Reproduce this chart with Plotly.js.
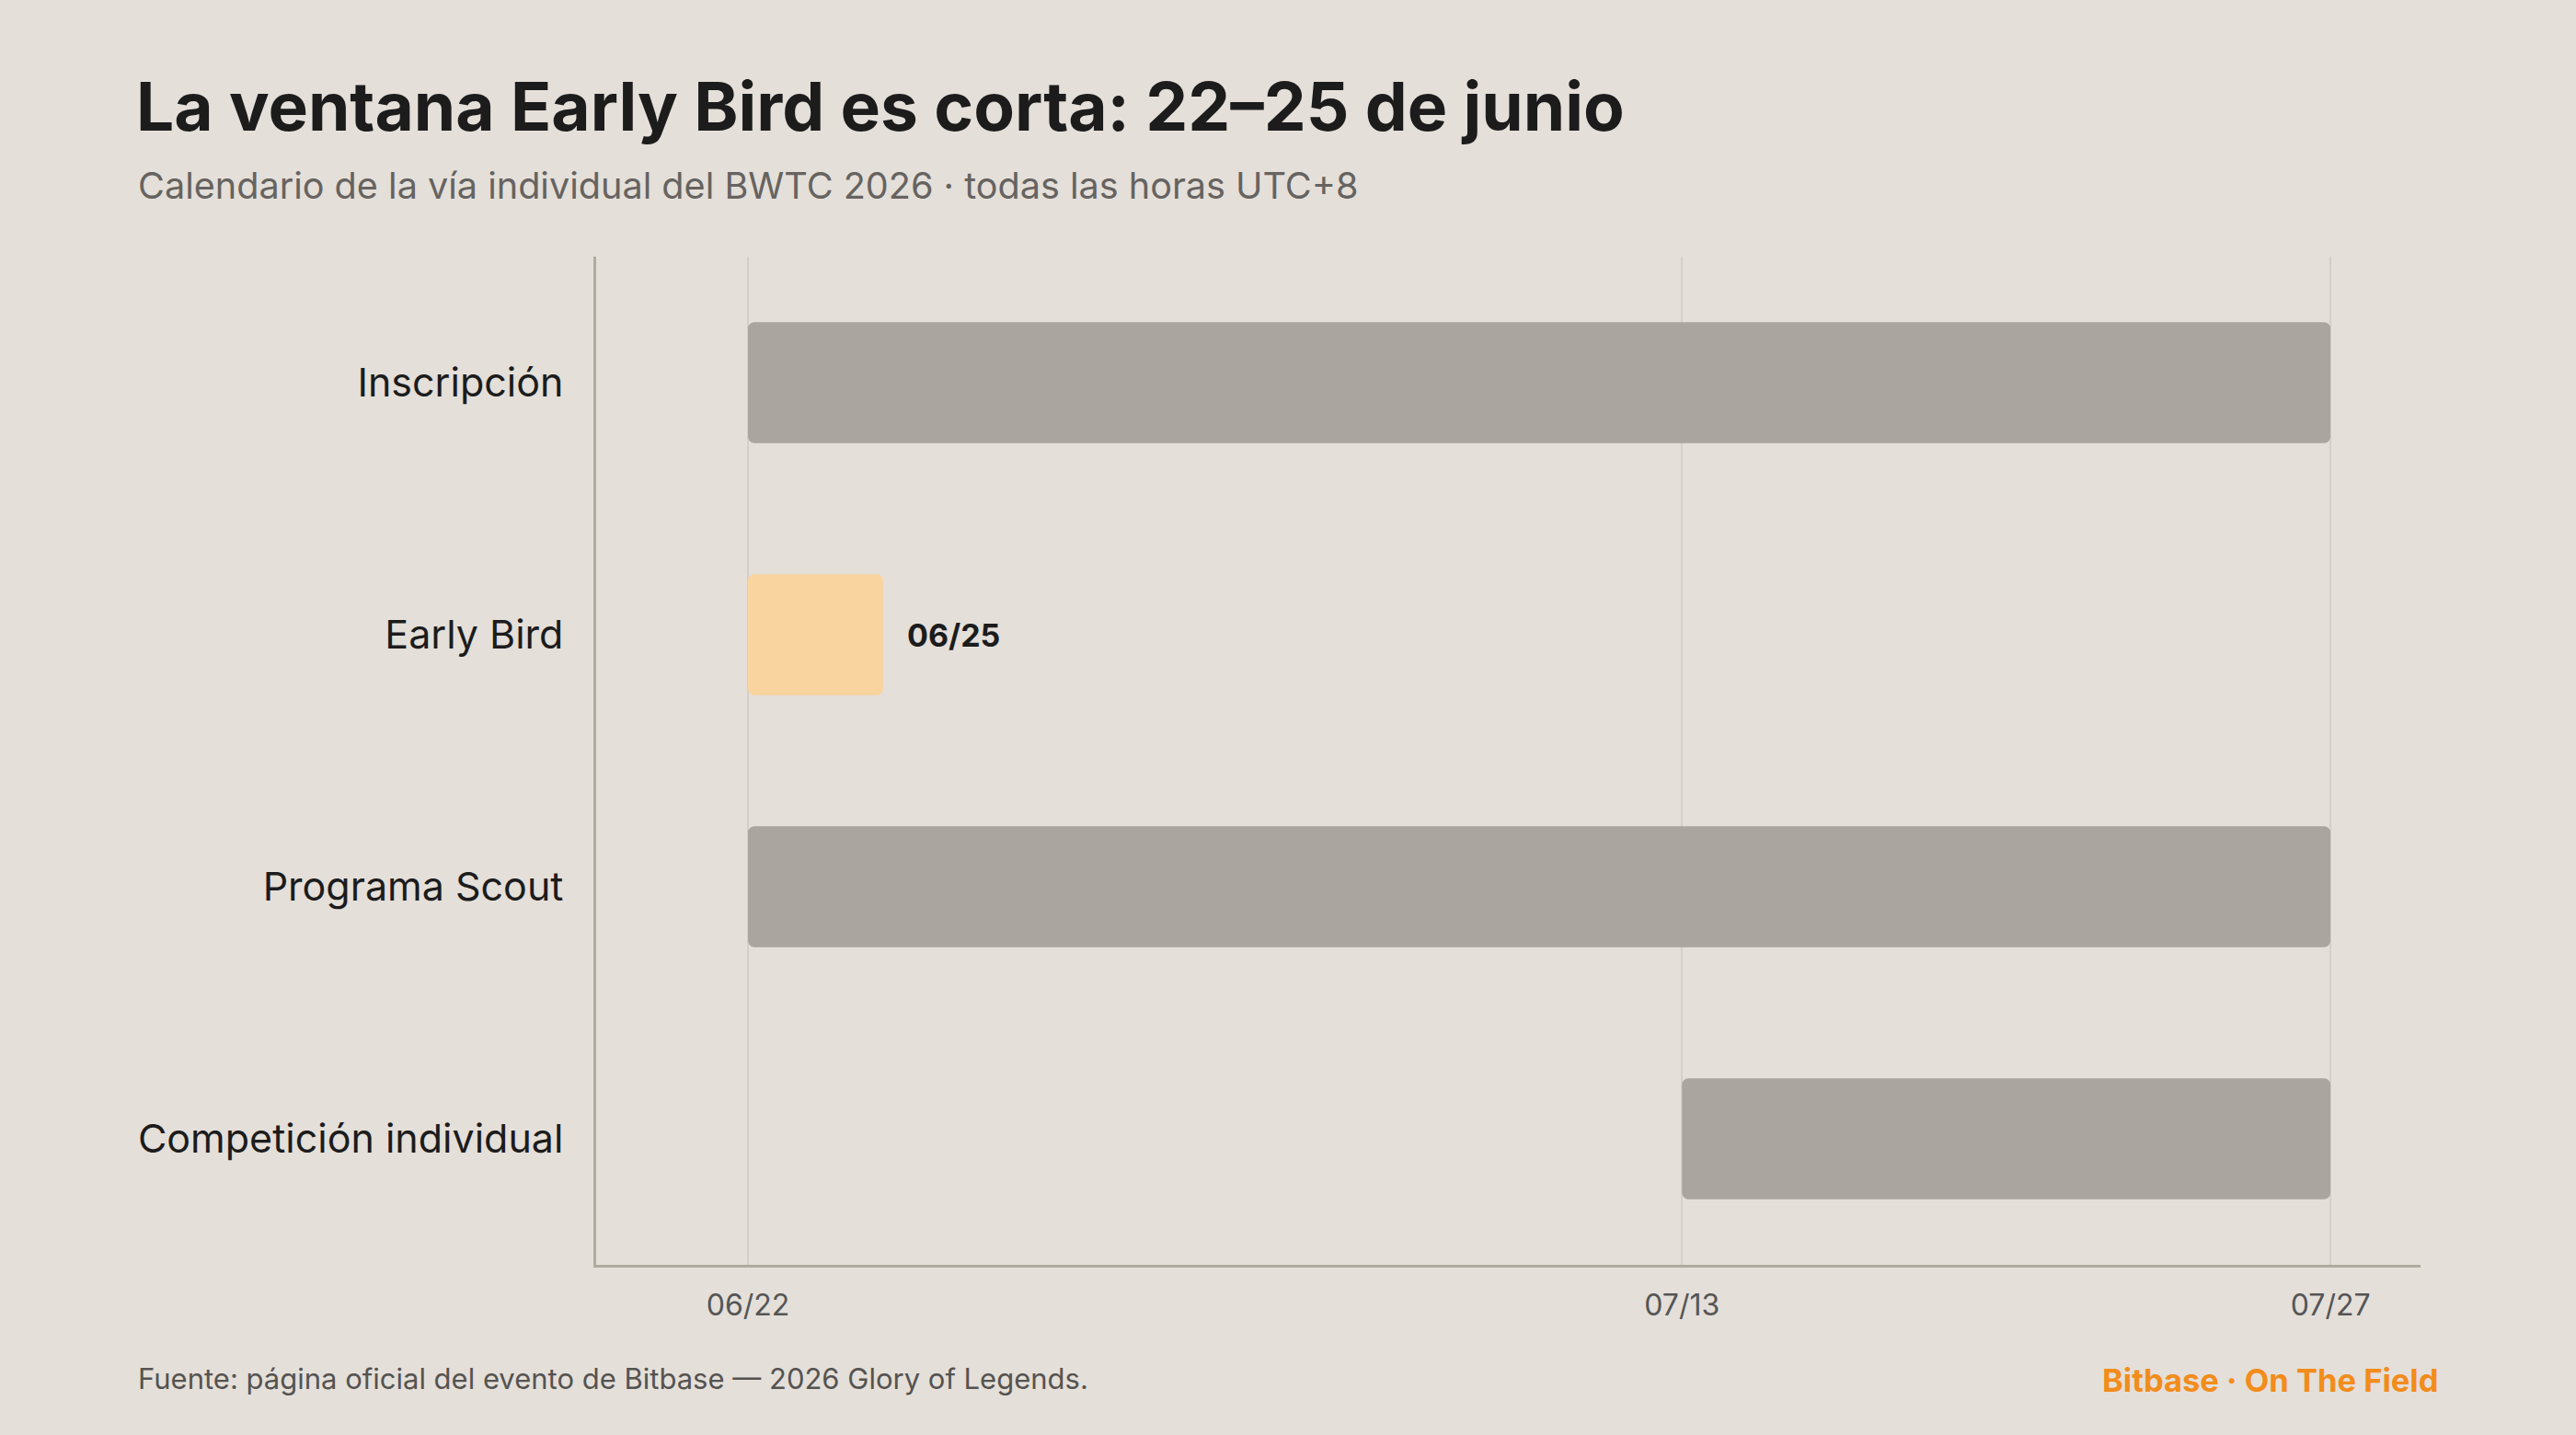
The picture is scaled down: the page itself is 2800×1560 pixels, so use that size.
<!DOCTYPE html>
<html>
<head>
<meta charset="utf-8">
<script src="https://cdn.plot.ly/plotly-3.0.1.min.js"></script>
<style>
  html, body { margin: 0; padding: 0; background: #e4dfd9; }
  #chart { width: 2800px; height: 1560px; }
</style>
</head>
<body>
<div id="chart"></div>
<script>
// fases del calendario (UTC+8)
const fases = ['Inscripción', 'Early Bird', 'Programa Scout', 'Competición individual'];
const inicios = ['2026-06-22 20:00', '2026-06-22 20:00', '2026-06-22 20:00', '2026-07-13 00:00'];
const finales = ['2026-07-27 00:00', '2026-06-25 18:00', '2026-07-27 00:00', '2026-07-27 00:00'];
const etiquetas = ['', '06/25', '', ''];
const colores = ['#aaa59f', '#f9d49e', '#aaa59f', '#aaa59f'];

const tickFechas = ['2026-06-22 20:00', '2026-07-13 00:00', '2026-07-27 00:00'];
const tickTextos = ['06/22', '07/13', '07/27'];

const toMs = s => Date.parse(s.replace(' ', 'T') + ':00Z');
const duraciones = inicios.map((s, i) => toMs(finales[i]) - toMs(s));

const FONT = 'Inter, "Open Sans", sans-serif';

const W = 2800, H = 1560;
const M = {l: 648, r: 169, t: 279, b: 185};
const pw = W - M.l - M.r, ph = H - M.t - M.b;
const px = x => (x - M.l) / pw;
const py = y => (H - M.b - y) / ph;

const data = [{
  type: 'bar',
  orientation: 'h',
  y: fases,
  x: duraciones,
  base: inicios,
  width: 0.48,
  marker: {color: colores, cornerradius: 7, line: {width: 0}},
  hoverinfo: 'skip'
}];

// etiqueta a la derecha de la barra (solo donde hay texto)
const etiquetasAnn = etiquetas.map((t, i) => t ? {
  text: t,
  xref: 'x', yref: 'y', x: finales[i], y: fases[i],
  xanchor: 'left', yanchor: 'middle', xshift: 24, showarrow: false,
  font: {family: FONT, size: 34, color: '#1c1c1c', weight: 700}
} : null).filter(a => a);

const layout = {
  width: W,
  height: H,
  margin: M,
  paper_bgcolor: '#e4dfd9',
  plot_bgcolor: '#e4dfd9',
  showlegend: false,
  font: {family: FONT, color: '#1c1c1c'},
  title: {
    text: 'La ventana Early Bird es corta: 22–25 de junio',
    font: {family: FONT, size: 73, color: '#1c1c1c', weight: 700},
    xref: 'container', yref: 'container',
    x: 148 / W, xanchor: 'left',
    y: 1 - 116 / H, yanchor: 'middle'
  },
  xaxis: {
    type: 'date',
    range: ['2026-06-19 13:20', '2026-07-28 22:40'],
    tickvals: tickFechas,
    ticktext: tickTextos,
    showgrid: true,
    gridcolor: '#d4cfc8',
    gridwidth: 2,
    showline: true,
    linecolor: '#b0aa9f',
    linewidth: 3,
    ticks: '',
    ticklabelstandoff: 14,
    tickfont: {family: FONT, size: 32, color: '#555555'},
    zeroline: false,
    fixedrange: true
  },
  yaxis: {
    type: 'category',
    autorange: 'reversed',
    showline: true,
    linecolor: '#b0aa9f',
    linewidth: 3,
    showgrid: false,
    ticks: '',
    ticklabelstandoff: 24,
    tickfont: {family: FONT, size: 43, color: '#1c1c1c'},
    zeroline: false,
    fixedrange: true
  },
  annotations: [
    {
      text: 'Calendario de la vía individual del BWTC 2026 · todas las horas UTC+8',
      xref: 'paper', yref: 'paper', x: px(148), y: py(202),
      xanchor: 'left', yanchor: 'middle', showarrow: false,
      font: {family: FONT, size: 39.6, color: '#666360'}
    },
    {
      text: 'Fuente: página oficial del evento de Bitbase — 2026 Glory of Legends.',
      xref: 'paper', yref: 'paper', x: px(148), y: py(1498),
      xanchor: 'left', yanchor: 'middle', showarrow: false,
      font: {family: FONT, size: 31, color: '#555350'}
    },
    {
      text: 'Bitbase · On The Field',
      xref: 'paper', yref: 'paper', x: px(2652), y: py(1500),
      xanchor: 'right', yanchor: 'middle', showarrow: false,
      font: {family: FONT, size: 34.5, color: '#f28c1b', weight: 700}
    }
  ].concat(etiquetasAnn)
};

Plotly.newPlot('chart', data, layout, {displayModeBar: false, staticPlot: true});
</script>
</body>
</html>
